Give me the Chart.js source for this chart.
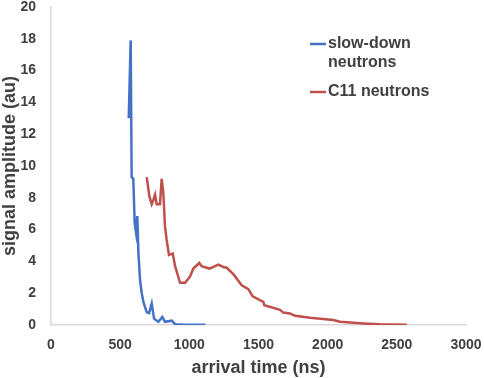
<!DOCTYPE html>
<html>
<head>
<meta charset="utf-8">
<script src="https://cdn.jsdelivr.net/npm/chart.js@4"></script>
<style>
html,body{margin:0;padding:0;background:#fff;}
#wrap{width:484px;height:378px;position:relative;}
</style>
</head>
<body>
<div id="wrap"><canvas id="c"></canvas></div>
<script>
const slowX = [562, 576, 583, 595, 605, 615, 624, 632, 644, 656, 668, 692, 709, 728, 745, 776, 805, 824, 873, 897, 950, 1116];
const slowY = [13.0, 17.9, 9.3, 9.2, 6.4, 5.8, 6.85, 4.5, 2.8, 2.0, 1.45, 0.8, 0.75, 1.35, 0.4, 0.2, 0.5, 0.2, 0.27, 0.05, 0.03, 0.02];
const c11X = [692, 711, 728, 740, 752, 764, 788, 800, 812, 824, 836, 853, 880, 897, 933, 969, 1005, 1029, 1072, 1089, 1145, 1210, 1246, 1270, 1318, 1379, 1427, 1458, 1535, 1542, 1656, 1680, 1728, 1764, 1873, 2041, 2090, 2258, 2379, 2572];
const c11Y = [9.3, 8.1, 7.6, 7.85, 8.2, 7.6, 7.6, 9.2, 8.3, 6.2, 5.35, 4.4, 4.5, 3.7, 2.65, 2.65, 3.05, 3.55, 3.9, 3.7, 3.55, 3.8, 3.65, 3.6, 3.2, 2.5, 2.25, 1.8, 1.45, 1.25, 0.95, 0.78, 0.73, 0.58, 0.46, 0.31, 0.21, 0.1, 0.04, 0.02];
const seriesLabels = [["slow-down", "neutrons"], ["C11 neutrons"]];
const xTitle = "arrival time (ns)";
const yTitle = "signal amplitude (au)";

const txt = '#404040';
const fam = '"Liberation Sans", Arial, sans-serif';

const legendPlugin = {
  id: 'customLegend',
  afterDraw(chart) {
    const ctx = chart.ctx;
    ctx.save();
    ctx.font = 'bold 16px ' + fam;
    ctx.fillStyle = txt;
    ctx.textBaseline = 'middle';
    const x0 = 310, x1 = 326, tx = 328;
    let y = 44;
    chart.data.datasets.forEach((ds, i) => {
      ctx.strokeStyle = ds.borderColor;
      ctx.lineWidth = 2.5;
      ctx.beginPath(); ctx.moveTo(x0, y); ctx.lineTo(x1, y); ctx.stroke();
      seriesLabels[i].forEach((line, j) => {
        ctx.fillText(line, tx, y + j * 19);
      });
      y += 19 * seriesLabels[i].length + 10;
    });
    ctx.restore();
  }
};

new Chart(document.getElementById('c'), {
  type: 'line',
  data: {
    datasets: [
      { label: seriesLabels[0].join(' '), data: slowX.map((x, i) => ({x, y: slowY[i]})), borderColor: '#4472C4', borderWidth: 2.5, pointRadius: 0, tension: 0, fill: false },
      { label: seriesLabels[1].join(' '), data: c11X.map((x, i) => ({x, y: c11Y[i]})), borderColor: '#C0504D', borderWidth: 2.5, pointRadius: 0, tension: 0, fill: false }
    ]
  },
  options: {
    responsive: true,
    maintainAspectRatio: false,
    animation: false,
    layout: { padding: 0 },
    plugins: { legend: { display: false }, tooltip: { enabled: false } },
    scales: {
      x: {
        type: 'linear', min: 0, max: 3000,
        ticks: { stepSize: 500, color: txt, font: { family: fam, size: 14, weight: 'bold' }, padding: 12, maxRotation: 0, callback: v => String(v) },
        grid: { display: true, drawOnChartArea: false, drawTicks: false, color: '#d9d9d9' },
        border: { color: '#d9d9d9', width: 1.5 },
        title: { display: true, text: xTitle, color: txt, font: { family: fam, size: 18, weight: 'bold', lineHeight: 1.1 }, padding: { top: 4, bottom: 0 } },
        afterFit(s) { s.height = 53; s.paddingLeft = 0; s.paddingRight = 18; }
      },
      y: {
        min: 0, max: 20,
        ticks: { stepSize: 2, color: txt, font: { family: fam, size: 14, weight: 'bold' }, padding: 15 },
        grid: { display: true, drawOnChartArea: false, drawTicks: false, color: '#d9d9d9' },
        border: { color: '#d9d9d9', width: 1.5 },
        title: { display: true, text: yTitle, color: txt, font: { family: fam, size: 18, weight: 'bold', lineHeight: 1.1 }, padding: { top: 0, bottom: 0 } },
        afterFit(s) { s.width = 51; s.paddingTop = 7; s.paddingBottom = 0; }
      }
    }
  },
  plugins: [legendPlugin]
});
</script>
</body>
</html>
